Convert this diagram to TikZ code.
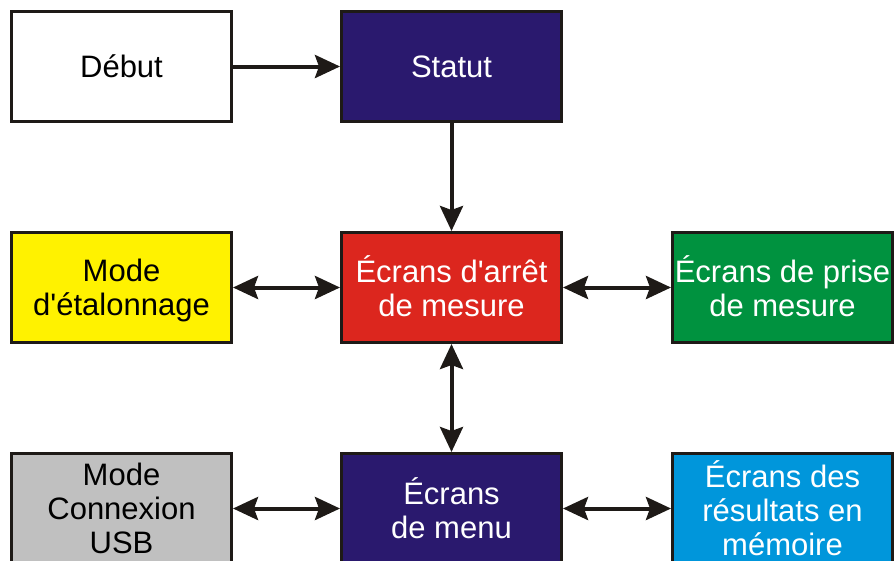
\documentclass[tikz,border=0pt]{standalone}
\usepackage{fontspec}
% plain family without TeX ligatures, so ' stays a straight apostrophe
\newfontfamily\boxfont{Liberation Sans}
\usetikzlibrary{arrows.meta}

\definecolor{inkline}{RGB}{30,26,23}
\definecolor{navybox}{RGB}{42,25,110}
\definecolor{redbox}{RGB}{220,38,30}
\definecolor{yellowbox}{RGB}{255,242,0}
\definecolor{greenbox}{RGB}{0,146,63}
\definecolor{greybox}{RGB}{192,192,192}
\definecolor{bluebox}{RGB}{0,150,219}

% two centred lines, set a little below the box centre
\newcommand\twolines[2]{\raisebox{-4pt}[\height][\depth]{\begin{tabular}{@{}c@{}}#1\\#2\end{tabular}}}

\tikzset{
  stateblock/.style={draw=inkline, line width=3pt, minimum width=220pt,
    minimum height=110pt, inner sep=0pt, align=center,
    font=\boxfont\fontsize{31}{34}\selectfont},
  darktext/.style={stateblock, text=black},
  lighttext/.style={stateblock, text=white},
  flow/.style={draw=inkline, line width=4pt,
    -{Stealth[length=25pt, width=23pt, inset=4pt]}},
  twoway/.style={draw=inkline, line width=4pt,
    {Stealth[length=25pt, width=23pt, inset=4pt]}-{Stealth[length=25pt, width=23pt, inset=4pt]}}
}

\begin{document}
\begin{tikzpicture}[x=1pt, y=-1pt]
  \useasboundingbox (0,0) rectangle (896,560);
  \clip (0,0) rectangle (896,560);
  \fill[white] (0,0) rectangle (896,560);

  % top row
  \node[darktext, fill=white]      (debut)   at (121.5,66.5)  {Début};
  \node[lighttext, fill=navybox]   (statut)  at (451.5,66.5)  {Statut};

  % middle row
  \node[darktext, fill=yellowbox]  (etal)    at (121.5,287.5) {\twolines{Mode}{d'étalonnage}};
  \node[lighttext, fill=redbox]    (arret)   at (451.5,287.5) {\twolines{Écrans d'arrêt}{de mesure}};
  \node[lighttext, fill=greenbox]  (prise)   at (782.5,287.5) {\twolines{Écrans de prise}{de mesure}};

  % bottom row
  \node[darktext, fill=greybox]    (usb)     at (121.5,508.5) {Mode\\Connexion\\USB};
  \node[lighttext, fill=navybox]   (menu)    at (451.5,508.5) {Écrans\\de menu};
  \node[lighttext, fill=bluebox]   (result)  at (782.5,508.5) {Écrans des\\résultats en\\mémoire};

  % connectors
  \draw[flow]   (debut.east)  -- (statut.west);
  \draw[flow]   (statut.south) -- (arret.north);
  \draw[twoway] (etal.east)   -- (arret.west);
  \draw[twoway] (arret.east)  -- (prise.west);
  \draw[twoway] (arret.south) -- (menu.north);
  \draw[twoway] (usb.east)    -- (menu.west);
  \draw[twoway] (menu.east)   -- (result.west);
\end{tikzpicture}
\end{document}
